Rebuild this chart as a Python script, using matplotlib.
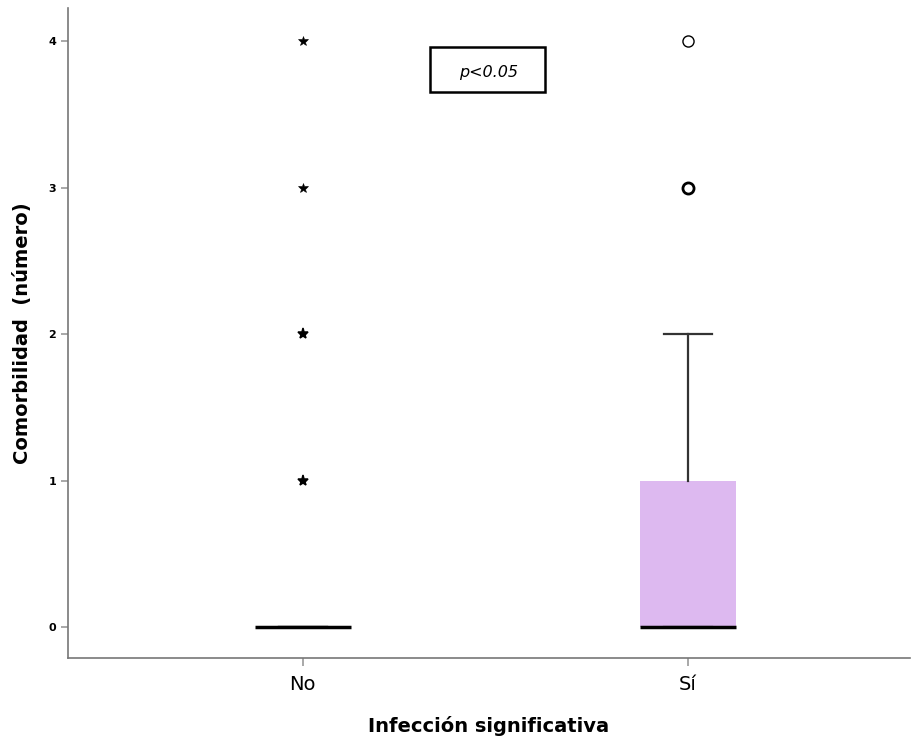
import matplotlib.pyplot as plt
from matplotlib.patches import Rectangle

# grupos y estadísticos de caja (comorbilidad, número)
grupos = ["No", "Sí"]
q1 = [0, 0]
mediana = [0, 0]
q3 = [0, 1]
bigote_inf = [0, 0]
bigote_sup = [0, 2]

# casos atípicos: extremos (*) en "No", atípicos (o) en "Sí"
extremos_no = [1, 2, 3, 4]
atipicos_si = [3, 4]
grosor_si = [2.0, 1.0]

fig = plt.figure(figsize=(9.14, 7.42), dpi=100)
ax = fig.add_axes([0.0744, 0.1132, 0.9212, 0.8758])

stats = []
for i, g in enumerate(grupos):
    stats.append(dict(label=g, q1=q1[i], med=mediana[i], q3=q3[i],
                      whislo=bigote_inf[i], whishi=bigote_sup[i], fliers=[]))

ax.bxp(stats, positions=[1, 2], widths=0.25, showfliers=False, patch_artist=True,
       boxprops=dict(facecolor="#ddb9f0", edgecolor="none"),
       medianprops=dict(color="black", linewidth=2.5),
       whiskerprops=dict(color="#333333", linewidth=1.6),
       capprops=dict(color="#333333", linewidth=1.6),
       capwidths=0.125)

# la caja de "No" es degenerada: sólo se ve la mediana, sin bigotes
for v in extremos_no:
    ax.plot(1, v, marker="*", color="black", markersize=7 if v > 2 else 8,
            markeredgewidth=0.4 if v > 2 else 1.1, linestyle="none")
for v, lw in zip(atipicos_si, grosor_si):
    ax.plot(2, v, marker="o", markerfacecolor="white", markeredgecolor="black",
            markersize=8, markeredgewidth=lw, linestyle="none")

ax.set_xlim(0.39, 2.577)
ax.set_ylim(-0.21, 4.225)
ax.set_yticks([0, 1, 2, 3, 4])
ax.set_xticks([1, 2])
ax.set_xticklabels(grupos, fontsize=14)
ax.tick_params(axis="y", labelsize=8, length=5, color="#999999", width=1.2)
ax.tick_params(axis="x", length=6, color="#999999", width=1.2, pad=6)
for lab in ax.get_yticklabels():
    lab.set_fontweight("bold")

for s in ["top", "right"]:
    ax.spines[s].set_visible(False)
for s in ["left", "bottom"]:
    ax.spines[s].set_color("#777777")
    ax.spines[s].set_linewidth(1.2)

ax.set_ylabel("Comorbilidad  (número)", fontsize=14, fontweight="bold", labelpad=12)
ax.set_xlabel("Infección significativa", fontsize=14, fontweight="bold", labelpad=16)

# recuadro con el valor de p
fig.add_artist(Rectangle((0.4705, 0.876), 0.1258, 0.0606, transform=fig.transFigure,
                         facecolor="white", edgecolor="black", linewidth=1.8))
fig.text(0.534, 0.902, "p<0.05", fontsize=11.5, style="italic", ha="center", va="center")

fig.savefig("out.png", dpi=100)
